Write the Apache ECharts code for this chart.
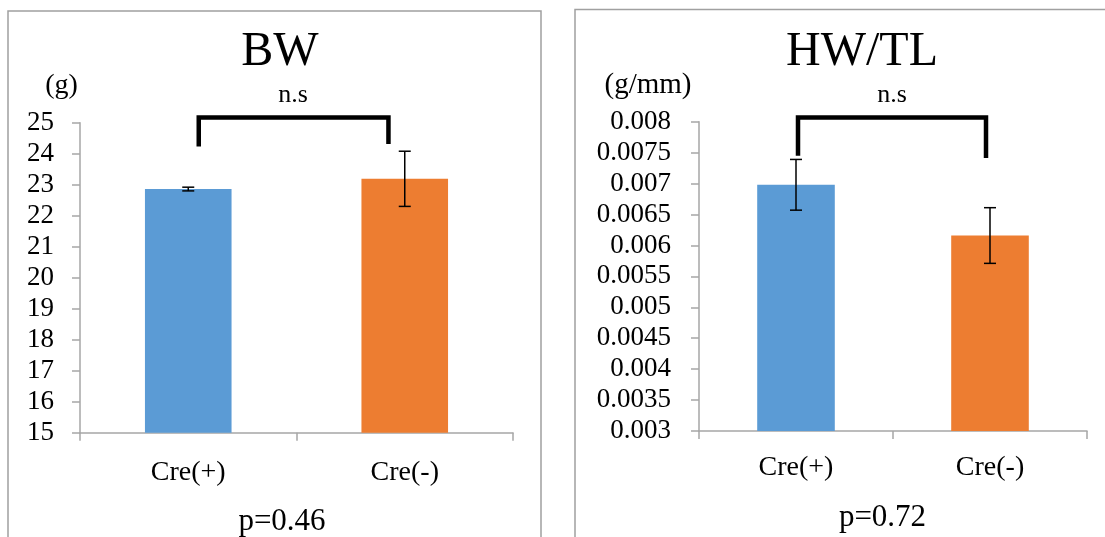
<!DOCTYPE html>
<html>
<head>
<meta charset="utf-8">
<script src="https://cdn.jsdelivr.net/npm/echarts@6/dist/echarts.min.js"></script>
<style>
  html, body { margin: 0; padding: 0; background: #fff; }
  #chart { width: 1105px; height: 537px; }
</style>
</head>
<body>
<div id="chart"></div>
<script>
// Groups
var categories = ['Cre(+)', 'Cre(-)'];

// Body weight (g): means and error half-widths
var bwMean = [22.86, 23.19];
var bwErr = [0.06, 0.89];
var bwTicks = ['15', '16', '17', '18', '19', '20', '21', '22', '23', '24', '25'];
// Significance bracket: [top, left foot, right foot] in g
var bwBracket = [25.17, 24.23, 24.31];

// Heart weight / tibia length (g/mm): means and error half-widths
var hwMean = [0.00698, 0.00616];
var hwErr = [0.00041, 0.00045];
var hwTicks = ['0.003', '0.0035', '0.004', '0.0045', '0.005', '0.0055', '0.006', '0.0065', '0.007', '0.0075', '0.008'];
var hwBracket = [0.008068, 0.00745, 0.007413];

var FONT = 'Liberation Serif';
var barColors = ['#5b9bd5', '#ed7d31'];
var axisGray = '#a6a6a6';

function errorBarSeries(gridIdx, mean, err) {
  return {
    type: 'custom',
    xAxisIndex: gridIdx,
    yAxisIndex: gridIdx,
    z: 5,
    clip: false,
    data: mean.map(function (m, i) { return [i, m, err[i]]; }),
    renderItem: function (params, api) {
      var i = api.value(0), m = api.value(1), e = api.value(2);
      var top = api.coord([i, m + e]);
      var bot = api.coord([i, m - e]);
      var cap = 6;
      var st = { stroke: '#000', lineWidth: 1.5 };
      return {
        type: 'group',
        children: [
          { type: 'line', shape: { x1: top[0], y1: top[1], x2: bot[0], y2: bot[1] }, style: st },
          { type: 'line', shape: { x1: top[0] - cap, y1: top[1], x2: top[0] + cap, y2: top[1] }, style: st },
          { type: 'line', shape: { x1: bot[0] - cap, y1: bot[1], x2: bot[0] + cap, y2: bot[1] }, style: st }
        ]
      };
    }
  };
}

function bracketSeries(gridIdx, b, dxL, dxR) {
  return {
    type: 'custom',
    xAxisIndex: gridIdx,
    yAxisIndex: gridIdx,
    z: 6,
    clip: false,
    data: [[0, b[0], b[1], b[2]]],
    renderItem: function (params, api) {
      var topL = api.coord([0, api.value(1)]);
      var topR = api.coord([1, api.value(1)]);
      var footL = api.coord([0, api.value(2)]);
      var footR = api.coord([1, api.value(3)]);
      var xl = topL[0] + dxL, xr = topR[0] + dxR;
      return {
        type: 'polyline',
        shape: { points: [[xl, footL[1]], [xl, topL[1]], [xr, topR[1]], [xr, footR[1]]] },
        style: { stroke: '#000', lineWidth: 4.5, fill: null, lineJoin: 'miter' }
      };
    }
  };
}

function xAxisCfg(gridIdx, margin) {
  return {
    gridIndex: gridIdx,
    type: 'category',
    data: categories,
    boundaryGap: true,
    axisLine: { show: true, lineStyle: { color: axisGray, width: 1.5 } },
    axisTick: { show: true, length: 8, lineStyle: { color: axisGray, width: 1.5 } },
    axisLabel: { margin: margin, verticalAlign: 'middle', color: '#000', fontFamily: FONT, fontSize: 28 },
    splitLine: { show: false }
  };
}

function yAxisCfg(gridIdx, min, max, interval, ticks, margin) {
  return {
    gridIndex: gridIdx,
    type: 'value',
    min: min,
    max: max,
    interval: interval,
    axisLine: { show: true, lineStyle: { color: axisGray, width: 1.5 } },
    axisTick: { show: true, length: 8, lineStyle: { color: axisGray, width: 1.5 } },
    axisLabel: {
      margin: margin, color: '#000', fontFamily: FONT, fontSize: 27,
      formatter: function (v, idx) { return ticks[idx]; }
    },
    splitLine: { show: false }
  };
}

function barSeries(gridIdx, mean) {
  return {
    type: 'bar',
    xAxisIndex: gridIdx,
    yAxisIndex: gridIdx,
    barWidth: '40%',
    data: mean.map(function (v, i) { return { value: v, itemStyle: { color: barColors[i] } }; }),
    animation: false
  };
}

var chart = echarts.init(document.getElementById('chart'), null, { renderer: 'canvas' });

var textStyle = function (size) { return { fontFamily: FONT, fontSize: size, fill: '#000', align: 'center', verticalAlign: 'middle' }; };

chart.setOption({
  animation: false,
  backgroundColor: '#fff',
  grid: [
    { left: 80, top: 122.7, width: 433, height: 310 },
    { left: 699, top: 121.7, width: 388, height: 309.3 }
  ],
  xAxis: [xAxisCfg(0, 40), xAxisCfg(1, 37)],
  yAxis: [
    yAxisCfg(0, 15, 25, 1, bwTicks, 26),
    yAxisCfg(1, 0.003, 0.008, 0.0005, hwTicks, 28)
  ],
  series: [
    barSeries(0, bwMean),
    barSeries(1, hwMean),
    errorBarSeries(0, bwMean, bwErr),
    errorBarSeries(1, hwMean, hwErr),
    bracketSeries(0, bwBracket, 10.5, -16.3),
    bracketSeries(1, hwBracket, 2, -4)
  ],
  graphic: [
    // panel frames
    { type: 'rect', shape: { x: 8, y: 11, width: 533, height: 540 }, style: { fill: null, stroke: '#a0a0a0', lineWidth: 1.5 }, silent: true },
    { type: 'rect', shape: { x: 575, y: 9.5, width: 540, height: 540 }, style: { fill: null, stroke: '#a0a0a0', lineWidth: 1.5 }, silent: true },
    // titles
    { type: 'text', x: 280, y: 52.5, style: Object.assign({ text: 'BW' }, textStyle(48)) },
    { type: 'text', x: 862, y: 52.5, style: Object.assign({ text: 'HW/TL' }, textStyle(48)) },
    // unit labels
    { type: 'text', x: 61.5, y: 85.3, style: Object.assign({ text: '(g)' }, textStyle(28)) },
    { type: 'text', x: 648, y: 85.3, style: Object.assign({ text: '(g/mm)' }, textStyle(29)) },
    // significance labels
    { type: 'text', x: 293, y: 95, style: Object.assign({ text: 'n.s' }, textStyle(26)) },
    { type: 'text', x: 892, y: 95, style: Object.assign({ text: 'n.s' }, textStyle(26)) },
    // p-values
    { type: 'text', x: 282, y: 522, style: Object.assign({ text: 'p=0.46' }, textStyle(31)) },
    { type: 'text', x: 882.5, y: 518, style: Object.assign({ text: 'p=0.72' }, textStyle(31)) }
  ]
});
</script>
</body>
</html>
